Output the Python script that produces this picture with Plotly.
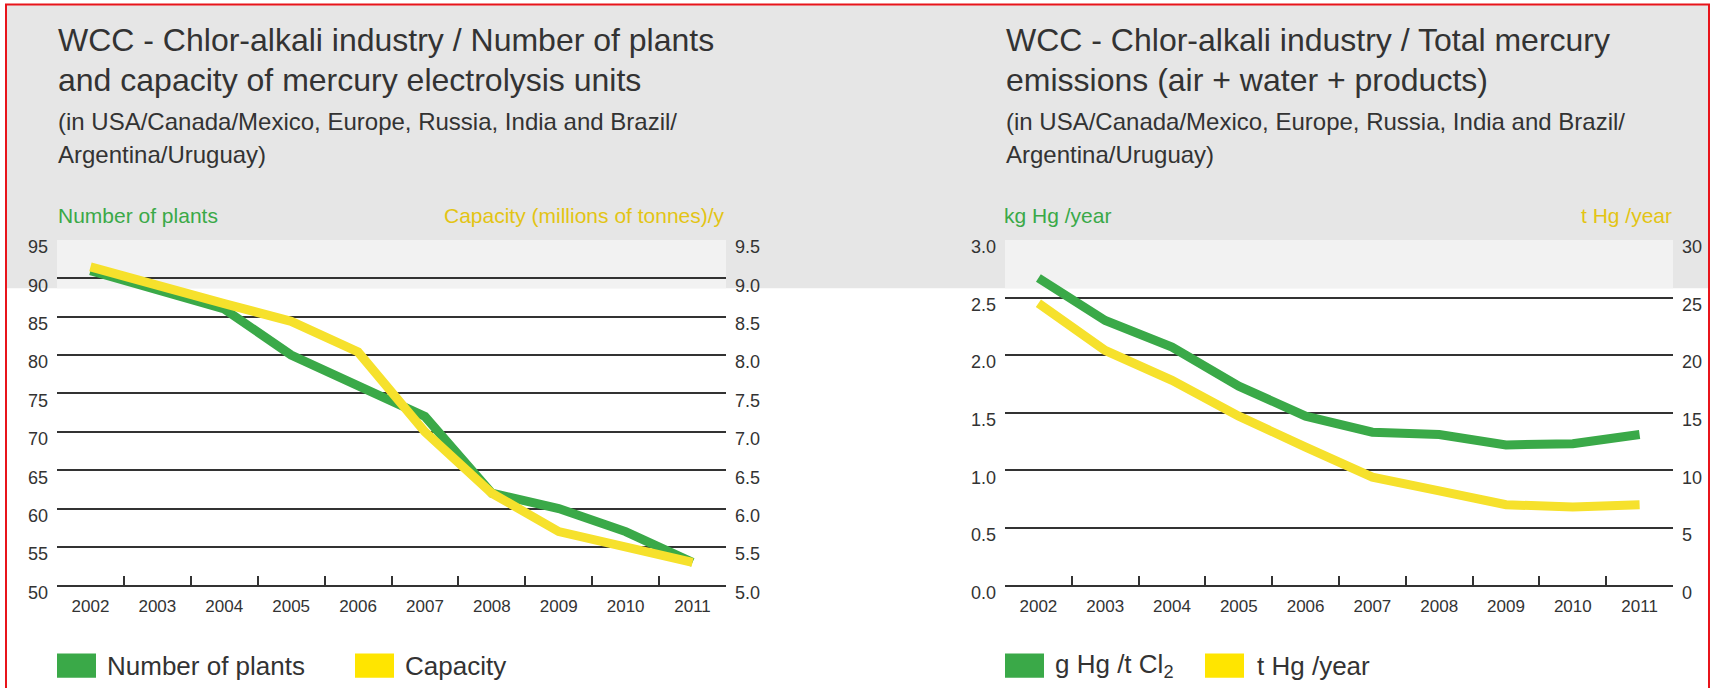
import plotly.graph_objects as go

# ---- data -------------------------------------------------------------
years = ["2002", "2003", "2004", "2005", "2006", "2007", "2008", "2009", "2010", "2011"]

plants_count = [91, 88.6, 86, 80, 76, 72, 62, 60, 57, 53]            # number of plants
capacity_mt = [9.15, 8.9, 8.67, 8.44, 8.04, 7.0, 6.2, 5.7, 5.5, 5.3]  # millions of tonnes / y

g_hg_per_t_cl2 = [2.67, 2.30, 2.07, 1.73, 1.47, 1.33, 1.31, 1.22, 1.23, 1.31]
t_hg_per_year = [24.5, 20.4, 17.8, 14.7, 12.0, 9.4, 8.2, 7.0, 6.8, 7.0]

left_ticks = [50, 55, 60, 65, 70, 75, 80, 85, 90, 95]
cap_ticks = [5.0, 5.5, 6.0, 6.5, 7.0, 7.5, 8.0, 8.5, 9.0, 9.5]
emis_ticks = [0.0, 0.5, 1.0, 1.5, 2.0, 2.5, 3.0]
tonne_ticks = [0, 5, 10, 15, 20, 25, 30]

# ---- styling ----------------------------------------------------------
W, H = 1713, 711
GREEN = "#3aa948"
YELLOW_LINE = "#f6e12c"
YELLOW_SWATCH = "#ffe500"
YELLOW_TEXT = "#e3c414"
TEXT = "#333333"
GRID = "#333333"
BASE = "Liberation Sans, Arial, sans-serif"


def px(x):
    return x / W


def py(y):
    return 1 - y / H


# vertical layout (pixels from the top of the figure)
FRAME_TOP = 1.5
HEADER_TOP, HEADER_BOTTOM = 2, 293.4
PLOT_TOP, PLOT_BOTTOM = 243.8, 599.2
TITLE_Y = (37.7, 79.5, 122.4, 156.0)
CAPTION_Y = 219.0
LEGEND_Y = (669.4, 694.2)
LEGEND_TEXT_Y = 681.8

# horizontal layout
LEFT_X = (57, 726)
RIGHT_X = (1005, 1673)

fig = go.Figure()

fig.add_trace(go.Scatter(x=years, y=capacity_mt, xaxis="x", yaxis="y2", mode="lines",
                         line=dict(color=YELLOW_LINE, width=9), name="Capacity"))
fig.add_trace(go.Scatter(x=years, y=plants_count, xaxis="x", yaxis="y", mode="lines",
                         line=dict(color=GREEN, width=9), name="Number of plants"))
fig.add_trace(go.Scatter(x=years, y=t_hg_per_year, xaxis="x2", yaxis="y4", mode="lines",
                         line=dict(color=YELLOW_LINE, width=9), name="t Hg /year"))
fig.add_trace(go.Scatter(x=years, y=g_hg_per_t_cl2, xaxis="x2", yaxis="y3", mode="lines",
                         line=dict(color=GREEN, width=9), name="g Hg /t Cl2"))

ydom = [py(PLOT_BOTTOM), py(PLOT_TOP)]

xcommon = dict(type="category", categoryorder="array", categoryarray=years,
               range=[-0.5, len(years) - 0.5],
               showline=True, linecolor=GRID, linewidth=2, ticks="inside", ticklen=9,
               tickwidth=1.5, tickcolor=GRID, tickson="boundaries", showgrid=False,
               zeroline=False, tickfont=dict(family=BASE, size=17, color=TEXT),
               ticklabelstandoff=4, fixedrange=True)

ycommon = dict(showline=False, zeroline=False, ticks="", ticklabelshift=7,
               tickfont=dict(family=BASE, size=18, color=TEXT), fixedrange=True,
               ticklabelstandoff=8)

fig.update_layout(
    width=W, height=H, margin=dict(l=0, r=0, t=0, b=0),
    paper_bgcolor="white", plot_bgcolor="rgba(0,0,0,0)", showlegend=False,
    xaxis=dict(domain=[px(LEFT_X[0]), px(LEFT_X[1])], anchor="y", **xcommon),
    yaxis=dict(domain=ydom, anchor="x", range=[50, 95], tickvals=left_ticks,
               ticktext=[str(v) for v in left_ticks], showgrid=True, gridcolor=GRID,
               gridwidth=2, **ycommon),
    yaxis2=dict(overlaying="y", side="right", anchor="x", range=[5.0, 9.5],
                tickvals=cap_ticks, ticktext=[f"{v:.1f}" for v in cap_ticks],
                showgrid=False, **ycommon),
    xaxis2=dict(domain=[px(RIGHT_X[0]), px(RIGHT_X[1])], anchor="y3", **xcommon),
    yaxis3=dict(domain=ydom, anchor="x2", range=[0, 3.0], tickvals=emis_ticks,
                ticktext=[f"{v:.1f}" for v in emis_ticks], showgrid=True,
                gridcolor=GRID, gridwidth=2, **ycommon),
    yaxis4=dict(overlaying="y3", side="right", anchor="x2", range=[0, 30],
                tickvals=tonne_ticks, ticktext=[str(v) for v in tonne_ticks],
                showgrid=False, **ycommon),
)

shapes = []
# grey header band and lighter plot-area strip inside it
shapes.append(dict(type="rect", xref="paper", yref="paper", x0=px(7), x1=px(1708),
                   y0=py(HEADER_BOTTOM), y1=py(HEADER_TOP), fillcolor="#e6e6e6",
                   line_width=0, layer="below"))
for x0, x1 in (LEFT_X, RIGHT_X):
    shapes.append(dict(type="rect", xref="paper", yref="paper", x0=px(x0), x1=px(x1),
                       y0=py(HEADER_BOTTOM), y1=py(PLOT_TOP), fillcolor="#f2f2f2",
                       line_width=0, layer="below"))
# red frame
for x0, y0, x1, y1 in ((5, FRAME_TOP, 1710, FRAME_TOP), (6, FRAME_TOP, 6, H),
                       (1709, FRAME_TOP, 1709, H)):
    shapes.append(dict(type="line", xref="paper", yref="paper", x0=px(x0), x1=px(x1),
                       y0=py(y0), y1=py(y1), line=dict(color="#e8141b", width=2)))

# legend swatches
legend_items = [
    (57, GREEN, "Number of plants", 106),
    (355, YELLOW_SWATCH, "Capacity", 404),
    (1005, GREEN, "g Hg /t Cl<sub>2</sub>", 1054),
    (1205, YELLOW_SWATCH, "t Hg /year", 1256),
]
for sx, col, _, _ in legend_items:
    shapes.append(dict(type="rect", xref="paper", yref="paper", x0=px(sx), x1=px(sx + 39),
                       y0=py(LEGEND_Y[1]), y1=py(LEGEND_Y[0]), fillcolor=col, line_width=0))

annotations = []


def text(x, y, s, size, color=TEXT, anchor="left"):
    annotations.append(dict(xref="paper", yref="paper", x=px(x), y=py(y), text=s,
                            showarrow=False, xanchor=anchor, yanchor="middle",
                            borderpad=0, font=dict(family=BASE, size=size, color=color)))


# headings
heading_left = ["WCC - Chlor-alkali industry / Number of plants",
                "and capacity of mercury electrolysis units"]
heading_right = ["WCC - Chlor-alkali industry / Total mercury",
                 "emissions (air + water + products)"]
subheading = ["(in USA/Canada/Mexico, Europe, Russia, India and Brazil/",
              "Argentina/Uruguay)"]
for x0, head in ((57, heading_left), (1005, heading_right)):
    text(x0, TITLE_Y[0], head[0], 32)
    text(x0, TITLE_Y[1], head[1], 32)
    text(x0, TITLE_Y[2], subheading[0], 24)
    text(x0, TITLE_Y[3], subheading[1], 24)

# axis captions
text(57, CAPTION_Y, "Number of plants", 21, GREEN)
text(726, CAPTION_Y, "Capacity (millions of tonnes)/y", 21, YELLOW_TEXT, anchor="right")
text(1003, CAPTION_Y, "kg Hg /year", 21, GREEN)
text(1673, CAPTION_Y, "t Hg /year", 21, YELLOW_TEXT, anchor="right")

# legend labels
for _, _, label, tx in legend_items:
    text(tx, LEGEND_TEXT_Y, label, 26)

fig.update_layout(shapes=shapes, annotations=annotations)

# page sized exactly to the figure: no default margins, nothing scrollable
page_css = (
    "for (const el of [document.documentElement, document.body]) {"
    "  el.style.margin='0'; el.style.padding='0'; el.style.overflow='hidden'; }"
)
fig.write_html("out.html", post_script=page_css)
